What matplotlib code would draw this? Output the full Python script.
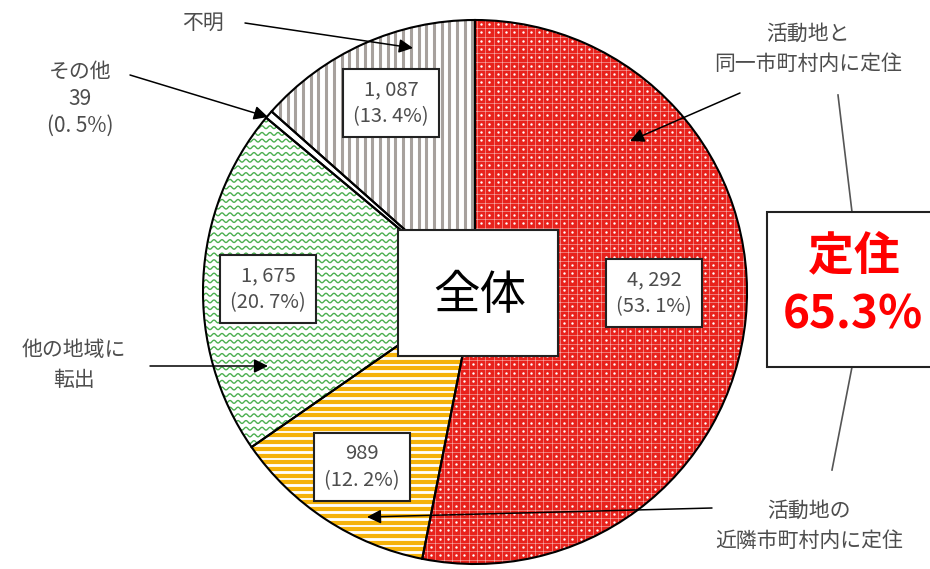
import matplotlib.pyplot as plt
import numpy as np
from matplotlib.patches import Wedge, Rectangle
from matplotlib.collections import LineCollection

plt.rcParams['font.family'] = ['Noto Sans CJK JP', 'DejaVu Sans']

# 活動後の居住地（12時の位置から時計回り）
categories = ['活動地と\n同一市町村内に定住', '活動地の\n近隣市町村内に定住',
              '他の地域に\n転出', 'その他', '不明']
counts = [4292, 989, 1675, 39, 1087]
settled_idx = [0, 1]   # 「定住」に含める区分

total = sum(counts)
pcts = [round(c / total * 100, 1) for c in counts]
settled_pct = round(sum(counts[i] for i in settled_idx) / total * 100, 1)


def fmt_count(c):
    return f'{c:,}'.replace(',', ', ')


def fmt_pct(p):
    return f'({p:.1f}%)'.replace('.', '. ')


W, H = 930, 569
fig = plt.figure(figsize=(W / 100, H / 100), dpi=100)
ax = fig.add_axes([0, 0, 1, 1])

cx, cy, R = 475, 292, 272
red = '#e8221c'
base_colors = [red, 'white', 'white', 'white', 'white']

wedges, _ = ax.pie(counts, colors=base_colors, startangle=-90, counterclock=True,
                   center=(cx, cy), radius=R,
                   wedgeprops=dict(linewidth=0, zorder=1))
ax.set_xlim(0, W)
ax.set_ylim(H, 0)
ax.set_aspect('auto')
ax.axis('off')


def clip_to(artist, wedge):
    artist.set_clip_path(wedge)
    return artist


x0, x1 = cx - R, cx + R
y0, y1 = cy - R, cy + R

# 同一市町村内: 赤地に白の格子と点
w = wedges[0]
step = 8.3
gxs = np.arange(x0, x1, step)
gys = np.arange(y0, y1, step)
clip_to(ax.vlines(gxs, y0, y1, colors=(1, 1, 1, 0.4), lw=0.7, zorder=2), w)
clip_to(ax.hlines(gys, x0, x1, colors=(1, 1, 1, 0.4), lw=0.7, zorder=2), w)
mx, my = np.meshgrid(gxs + step / 2, gys + step / 2)
clip_to(ax.scatter(mx.ravel(), my.ravel(), s=3, c='white', linewidths=0, zorder=2), w)

# 近隣市町村内: 黄色の横縞
w = wedges[1]
clip_to(ax.hlines(np.arange(y0, y1, 6.7), x0, x1, colors='#f5b20a', lw=3.0, zorder=2), w)

# 他の地域に転出: 緑の波線
w = wedges[2]
wx = np.arange(x0, x1, 0.5)
waves = [np.column_stack([wx, yy + 1.4 * np.sin(2 * np.pi * wx / 8.0)])
         for yy in np.arange(y0, y1, 6.7)]
clip_to(ax.add_collection(LineCollection(waves, colors='#4caf50', lw=1.0, zorder=2)), w)

# 不明: 灰色の縦縞
w = wedges[4]
clip_to(ax.vlines(np.arange(x0, x1, 7.7), y0, y1, colors='#a7a19d', lw=2.2, zorder=2), w)

# 区分の境界線
for w in wedges:
    ax.add_patch(Wedge(w.center, w.r, w.theta1, w.theta2, fill=False,
                       ec='black', lw=1.5, zorder=3))

# 中央の「全体」
ax.add_patch(Rectangle((398, 230), 160, 126, fc='white', ec='#222222', lw=1.5, zorder=4))
ax.text(480, 296, '全体', fontsize=33.5, ha='center', va='center', zorder=5)

# 各区分の人数と割合
gray = '#4d4d4d'
box_pos = {0: (654, 293), 1: (362, 467), 2: (268, 289), 4: (391, 103)}
for i, (bx, by) in box_pos.items():
    ax.text(bx, by, f'{fmt_count(counts[i])}\n{fmt_pct(pcts[i])}', fontsize=14.5,
            color=gray, ha='center', va='center', linespacing=1.35, zorder=6,
            bbox=dict(boxstyle='square,pad=0.5', fc='white', ec='#222222', lw=1.5))

# 区分名と矢印
arrow = dict(arrowstyle='-|>,head_length=0.6,head_width=0.3', color='black',
             lw=1.1, mutation_scale=14, shrinkA=0, shrinkB=0)
label_kw = dict(fontsize=15, color=gray, ha='center', va='center', linespacing=1.45, zorder=7)

ax.text(203, 23, categories[4], **label_kw)
ax.annotate('', xy=(413, 48), xytext=(245, 23), arrowprops=arrow, zorder=7)

ax.text(80, 99, f'{categories[3]}\n{counts[3]}\n{fmt_pct(pcts[3])}',
        **{**label_kw, 'linespacing': 1.3})
ax.annotate('', xy=(268, 117), xytext=(130, 75), arrowprops=arrow, zorder=7)

ax.text(808, 49, categories[0], **label_kw)
ax.annotate('', xy=(630, 141), xytext=(740, 93), arrowprops=arrow, zorder=7)

ax.text(74, 365, categories[2], **label_kw)
ax.annotate('', xy=(268, 366), xytext=(150, 366), arrowprops=arrow, zorder=7)

ax.text(809, 526, categories[1], **label_kw)
ax.annotate('', xy=(367, 517), xytext=(712, 508), arrowprops=arrow, zorder=7)

# 右側の「定住」合計
ax.plot([838, 852], [95, 212], color='#555555', lw=1.2, zorder=4)
ax.plot([852, 832], [367, 470], color='#555555', lw=1.2, zorder=4)
ax.add_patch(Rectangle((767, 212), 200, 155, fc='white', ec='#222222', lw=1.5,
                       zorder=5, clip_on=False))
ax.text(854, 256, '定住', fontsize=33, fontweight='bold', color='#ff0000',
        ha='center', va='center', zorder=6)
ax.text(853, 315, f'{settled_pct}%', fontsize=33, fontweight='bold', color='#ff0000',
        ha='center', va='center', zorder=6)

fig.savefig('out.png', dpi=100)
